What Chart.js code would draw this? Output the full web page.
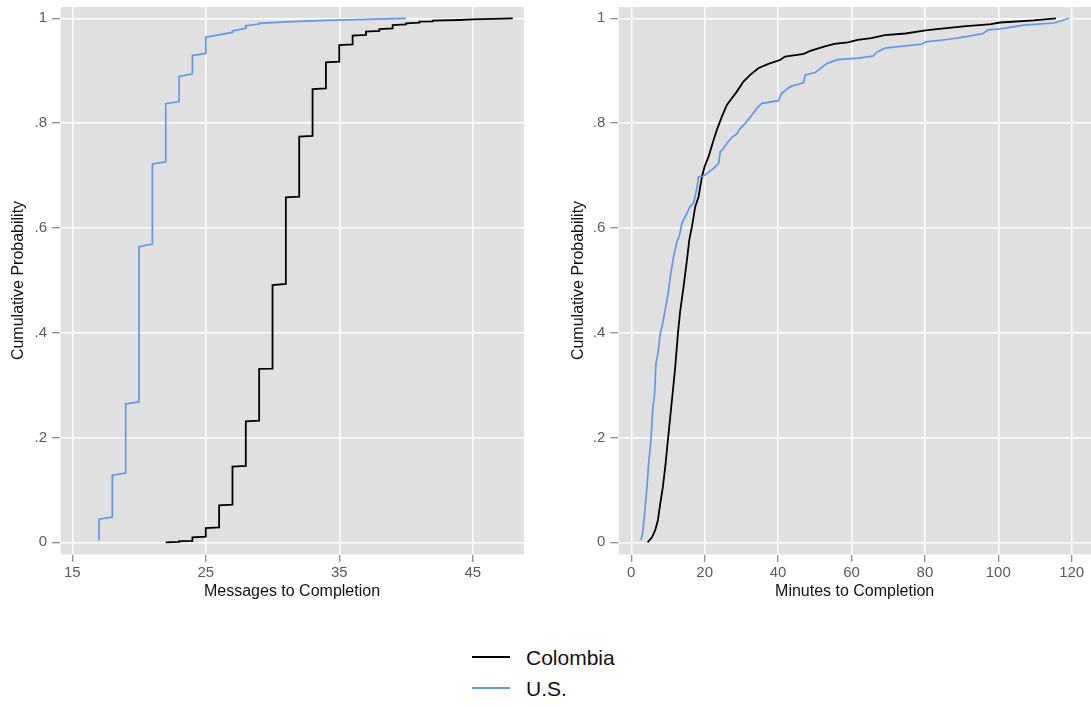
<!DOCTYPE html>
<html><head><meta charset="utf-8">
<script src="https://cdn.jsdelivr.net/npm/chart.js@4.4.1/dist/chart.umd.min.js"></script>
<style>
html,body{margin:0;padding:0;background:#fff;}
body{width:1091px;height:707px;position:relative;overflow:hidden;font-family:"Liberation Sans",Arial,sans-serif;}
#c1{position:absolute;left:0;top:0;}
#c2{position:absolute;left:560px;top:0;}
.sw{position:absolute;height:2px;width:38px;left:472px;}
.lt{position:absolute;left:526px;font-size:21px;line-height:21px;color:#111;white-space:nowrap;}
</style></head>
<body>
<canvas id="c1" width="545" height="610"></canvas>
<canvas id="c2" width="531" height="610"></canvas>
<div class="sw" style="top:656px;background:#000;"></div>
<div class="lt" style="top:647px;">Colombia</div>
<div class="sw" style="top:687px;background:#6495ED;"></div>
<div class="lt" style="top:678px;">U.S.</div>
<script>
// ---------- data ----------
const seriesNames = ["Colombia", "U.S."];

// Messages to completion (left panel): per message count, lowest and highest cumulative probability
const colMsgX  = [22, 23, 24, 25, 26, 27, 28, 29, 30, 31, 32, 33, 34, 35, 36, 37, 38, 39, 40, 41, 42, 44, 45, 48];
const colMsgLo = [0.000, 0.001, 0.0025, 0.011, 0.0286, 0.0718, 0.1456, 0.2322, 0.3314, 0.4929, 0.6597, 0.7754, 0.8664, 0.9173, 0.9503, 0.9682, 0.9758, 0.9809, 0.9885, 0.9917, 0.9942, 0.9968, 0.998, 1.0];
const colMsgHi = [0.000, 0.002, 0.0095, 0.0273, 0.0706, 0.1443, 0.2309, 0.3308, 0.4910, 0.6584, 0.7741, 0.8651, 0.9160, 0.9490, 0.9669, 0.9745, 0.9796, 0.9872, 0.9904, 0.9936, 0.9955, 0.9968, 0.998, 1.0];

const usMsgX  = [17, 18, 19, 20, 21, 22, 23, 24, 25, 27, 28, 29, 31, 34, 40];
const usMsgLo = [0.004, 0.048, 0.132, 0.268, 0.569, 0.726, 0.841, 0.894, 0.933, 0.973, 0.981, 0.989, 0.993, 0.996, 1.0];
const usMsgHi = [0.044, 0.128, 0.264, 0.564, 0.722, 0.837, 0.889, 0.929, 0.964, 0.976, 0.986, 0.9905, 0.993, 0.996, 1.0];

// Minutes to completion (right panel)
const colMinX = [4.45, 5.63, 6.54, 7.26, 7.9, 8.62, 9.26, 9.89, 10.62, 11.35, 11.98, 12.71, 13.3, 14.25, 15.16, 15.79, 16.52, 17.43, 18.33, 18.79, 19.25, 19.97, 21.05, 22.42, 23.32, 24.68, 26.04, 27.4, 28.75, 30.56, 32.4, 34.6, 37.35, 40.5, 41.9, 45.2, 47.0, 48.8, 52.5, 55.3, 59.0, 61.7, 65.4, 69.1, 74.7, 80.2, 83.9, 91.2, 94.9, 98.0, 100.5, 109.7, 115.7];
const colMinY = [0.000, 0.0095, 0.0235, 0.0426, 0.0744, 0.1062, 0.1443, 0.189, 0.240, 0.2907, 0.335, 0.3987, 0.440, 0.4878, 0.5387, 0.5768, 0.6023, 0.6405, 0.6596, 0.6787, 0.6978, 0.7169, 0.736, 0.7678, 0.787, 0.8124, 0.8347, 0.8474, 0.8601, 0.8792, 0.892, 0.9047, 0.913, 0.9204, 0.927, 0.930, 0.932, 0.938, 0.946, 0.951, 0.954, 0.959, 0.962, 0.968, 0.971, 0.977, 0.980, 0.985, 0.987, 0.989, 0.992, 0.996, 1.0];

const usMinX = [2.63, 3.09, 3.63, 4.27, 4.72, 5.36, 5.81, 6.35, 6.72, 7.26, 7.9, 8.53, 9.08, 9.72, 10.17, 10.62, 11.53, 12.43, 13.07, 13.8, 14.7, 16.07, 16.97, 17.88, 18.33, 19.69, 20.6, 22.42, 23.78, 24.24, 25.15, 26.04, 27.4, 28.75, 29.68, 31.04, 32.85, 34.21, 35.57, 40.1, 41.0, 43.3, 45.56, 46.92, 47.38, 50.1, 51.6, 53.4, 56.2, 61.8, 65.9, 66.8, 69.1, 72.8, 79.3, 80.2, 86.6, 91.2, 95.9, 97.2, 100.5, 106.9, 115.2, 119.3];
const usMinY = [0.0044, 0.0171, 0.0553, 0.1062, 0.1507, 0.1952, 0.2525, 0.2843, 0.3415, 0.3606, 0.3987, 0.4178, 0.437, 0.4624, 0.482, 0.5073, 0.5455, 0.5742, 0.5837, 0.6092, 0.6219, 0.641, 0.6474, 0.676, 0.6978, 0.6991, 0.7042, 0.7137, 0.7233, 0.7455, 0.7519, 0.7614, 0.7729, 0.7792, 0.79, 0.7996, 0.8155, 0.8283, 0.8378, 0.8429, 0.8569, 0.8697, 0.8741, 0.8773, 0.892, 0.8964, 0.905, 0.914, 0.921, 0.924, 0.928, 0.935, 0.943, 0.946, 0.951, 0.955, 0.960, 0.965, 0.971, 0.978, 0.980, 0.987, 0.991, 1.0];

const msgTicks = [15, 25, 35, 45];
const msgTickLabels = ["15", "25", "35", "45"];
const minTicks = [0, 20, 40, 60, 80, 100, 120];
const minTickLabels = ["0", "20", "40", "60", "80", "100", "120"];
const probTicks = [0, 0.2, 0.4, 0.6, 0.8, 1];
const probTickLabels = ["0", ".2", ".4", ".6", ".8", "1"];

const xTitleLeft = "Messages to Completion";
const xTitleRight = "Minutes to Completion";
const yTitle = "Cumulative Probability";

// ---------- build ----------
function stepPoints(xs, lo, hi) {
  const pts = [];
  xs.forEach((x, i) => {
    pts.push({x: x, y: lo[i]});
    if (hi[i] !== lo[i]) pts.push({x: x, y: hi[i]});
  });
  return pts;
}
function pairPoints(xs, ys) { return xs.map((x, i) => ({x: x, y: ys[i]})); }

const FONT = "'Liberation Sans', Arial, sans-serif";
const BLUE = "#6495ED";

const bgPlugin = {
  id: 'plotbg',
  beforeDraw(chart) {
    const {ctx, chartArea: a} = chart;
    ctx.save();
    ctx.fillStyle = '#e0e0e0';
    ctx.fillRect(a.left, a.top, a.right - a.left, a.bottom - a.top);
    ctx.restore();
  }
};

function makeChart(id, opts) {
  return new Chart(document.getElementById(id), {
    type: 'line',
    data: {
      datasets: [
        {label: seriesNames[1], data: opts.us, borderColor: BLUE, borderWidth: 1.7, pointRadius: 0, tension: 0, fill: false},
        {label: seriesNames[0], data: opts.col, borderColor: '#000000', borderWidth: 1.8, pointRadius: 0, tension: 0, fill: false}
      ]
    },
    options: {
      responsive: false,
      animation: false,
      devicePixelRatio: 1,
      layout: {autoPadding: false, padding: {top: 7, bottom: 0, left: 0, right: opts.rightPad}},
      plugins: {legend: {display: false}, tooltip: {enabled: false}},
      scales: {
        x: {
          type: 'linear', min: opts.xMin, max: opts.xMax,
          afterBuildTicks: s => { s.ticks = opts.xTicks.map(v => ({value: v})); },
          afterFit: s => { s.height = 56; s.paddingLeft = 0; s.paddingRight = 0; s.paddingTop = 0; s.paddingBottom = 0; },
          ticks: {autoSkip: false, maxRotation: 0, padding: 2, color: '#5a5a5a', font: {family: FONT, size: 15},
                  callback: (v, i) => opts.xLabels[i]},
          grid: {color: '#ffffff', lineWidth: 1.5, tickLength: 8, tickColor: '#6e6e6e', tickWidth: 1},
          border: {display: true, color: '#f4f4f4', width: 1},
          title: {display: true, text: opts.xTitle, color: '#111', font: {family: FONT, size: 16}, padding: {top: 0, bottom: 8.7}}
        },
        y: {
          type: 'linear', min: -0.02233, max: 1.02157,
          afterBuildTicks: s => { s.ticks = probTicks.map(v => ({value: v})); },
          afterFit: s => { s.width = opts.yWidth; s.paddingTop = 0; s.paddingBottom = 0; s.paddingLeft = 0; s.paddingRight = 0; },
          ticks: {autoSkip: false, padding: 5, color: '#5a5a5a', font: {family: FONT, size: 15},
                  callback: (v, i) => probTickLabels[i]},
          grid: {color: '#ffffff', lineWidth: 1.5, tickLength: 8, tickColor: '#6e6e6e', tickWidth: 1},
          border: {display: true, color: '#f4f4f4', width: 1},
          title: {display: true, text: yTitle, color: '#111', font: {family: FONT, size: 16}, padding: {top: 8.7, bottom: 0}}
        }
      }
    },
    plugins: [bgPlugin]
  });
}

makeChart('c1', {
  us: stepPoints(usMsgX, usMsgLo, usMsgHi),
  col: stepPoints(colMsgX, colMsgLo, colMsgHi),
  xMin: 14.08, xMax: 48.84, xTicks: msgTicks, xLabels: msgTickLabels,
  xTitle: xTitleLeft, yWidth: 60, rightPad: 21
});
makeChart('c2', {
  us: pairPoints(usMinX, usMinY),
  col: pairPoints(colMinX, colMinY),
  xMin: -3.54, xMax: 125.26, xTicks: minTicks, xLabels: minTickLabels,
  xTitle: xTitleRight, yWidth: 58.3, rightPad: 0
});
</script>
</body></html>
